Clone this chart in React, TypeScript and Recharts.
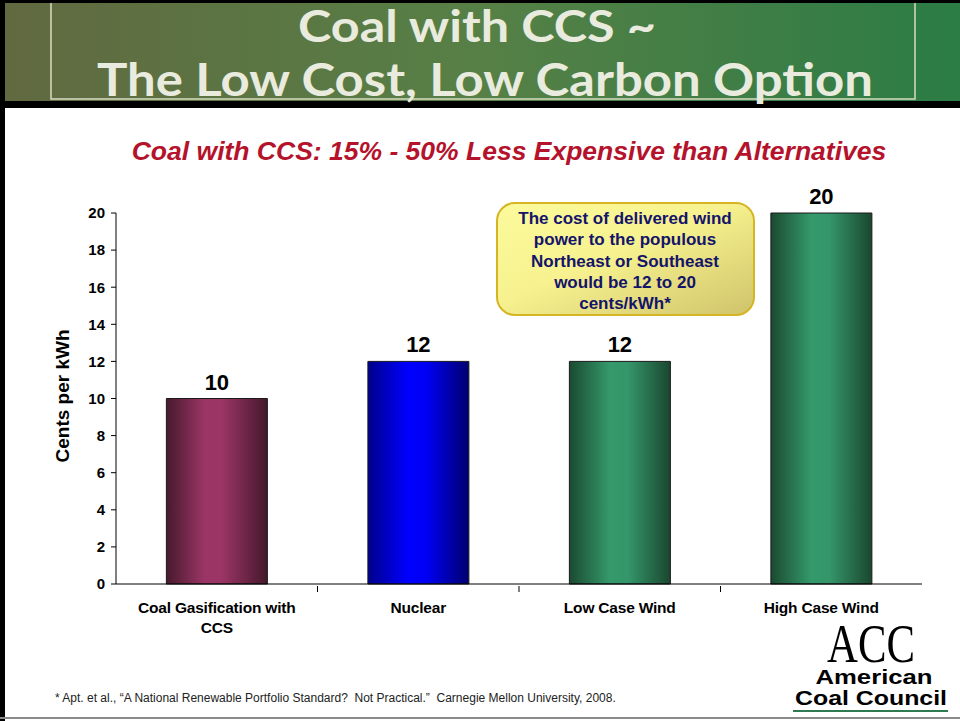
import React from 'react';
import { BarChart, Bar, XAxis, YAxis, Cell, LabelList } from 'recharts';

const categories = ['Coal Gasification with CCS', 'Nuclear', 'Low Case Wind', 'High Case Wind'];
const centsPerKwh = [10, 12, 12, 20];
const yTicks = [0, 2, 4, 6, 8, 10, 12, 14, 16, 18, 20];
const tickLines: Record<string, string[]> = {
  'Coal Gasification with CCS': ['Coal Gasification with', 'CCS'],
};
const calloutLines = [
  'The cost of delivered wind',
  'power to the populous',
  'Northeast or Southeast',
  'would be 12 to 20',
  'cents/kWh*',
];
const barGradients = ['gCoal', 'gNuclear', 'gWind', 'gWind'];

const data = categories.map((name, i) => ({ name, value: centsPerKwh[i] }));

const W = 960;
const H = 721;
const PLOT_LEFT = 116;
const PLOT_RIGHT = 922;
const BAND = (PLOT_RIGHT - PLOT_LEFT) / categories.length;
const FONT = 'Liberation Sans, Arial, sans-serif';

const CategoryTick = (props: any) => {
  const { x, y, payload, index } = props;
  const lines = tickLines[payload.value] || [payload.value];
  return (
    <g>
      {index > 0 && <line x1={x - BAND / 2} x2={x - BAND / 2} y1={y - 6} y2={y} stroke="#000" />}
      <text
        x={x}
        y={y + 21}
        textAnchor="middle"
        fontFamily={FONT}
        fontWeight="bold"
        fontSize={15.5}
        letterSpacing={-0.2}
        fill="#000"
      >
        {lines.map((l, i) => (
          <tspan key={i} x={x} dy={i === 0 ? 0 : 20}>
            {l}
          </tspan>
        ))}
      </text>
    </g>
  );
};

export default function App() {
  return (
    <div style={{ position: 'absolute', left: 0, top: 0, width: W, height: H, background: '#fff', overflow: 'hidden' }}>
      <BarChart
        width={W}
        height={H}
        data={data}
        margin={{ top: 213, right: W - PLOT_RIGHT, bottom: 77, left: PLOT_LEFT - 60 }}
        barCategoryGap="25%"
      >
        <defs>
          <linearGradient id="gCoal" x1="0" y1="0" x2="1" y2="0">
            <stop offset="0%" stopColor="#471a2e" />
            <stop offset="38%" stopColor="#9b3565" />
            <stop offset="55%" stopColor="#9b3565" />
            <stop offset="100%" stopColor="#45182c" />
          </linearGradient>
          <linearGradient id="gNuclear" x1="0" y1="0" x2="1" y2="0">
            <stop offset="0%" stopColor="#00008c" />
            <stop offset="40%" stopColor="#0000ff" />
            <stop offset="58%" stopColor="#0000f4" />
            <stop offset="100%" stopColor="#00006e" />
          </linearGradient>
          <linearGradient id="gWind" x1="0" y1="0" x2="1" y2="0">
            <stop offset="0%" stopColor="#1b4a31" />
            <stop offset="40%" stopColor="#34996b" />
            <stop offset="58%" stopColor="#34966a" />
            <stop offset="100%" stopColor="#1a472f" />
          </linearGradient>
        </defs>
        <XAxis
          dataKey="name"
          height={60}
          axisLine={{ stroke: '#000' }}
          tickLine={false}
          tick={<CategoryTick />}
          interval={0}
        />
        <YAxis
          width={60}
          domain={[0, 20]}
          ticks={yTicks}
          axisLine={{ stroke: '#000' }}
          tickLine={{ stroke: '#000' }}
          tickSize={5}
          tickMargin={6}
          tick={{ fill: '#000', fontSize: 15, fontWeight: 'bold', fontFamily: FONT }}
        />
        <Bar dataKey="value" stroke="#1a1a1a" strokeWidth={1} isAnimationActive={false}>
          {data.map((d, i) => (
            <Cell key={d.name} fill={`url(#${barGradients[i]})`} />
          ))}
          <LabelList
            dataKey="value"
            position="top"
            offset={9}
            style={{ fill: '#000', fontSize: 22, fontWeight: 'bold', fontFamily: FONT }}
          />
        </Bar>
      </BarChart>

      <svg width={W} height={H} style={{ position: 'absolute', left: 0, top: 0, pointerEvents: 'none' }}>
        <defs>
          <linearGradient id="hdr" x1="0" y1="0" x2="1" y2="0">
            <stop offset="0%" stopColor="#616940" />
            <stop offset="50%" stopColor="#568046" />
            <stop offset="100%" stopColor="#2b7c45" />
          </linearGradient>
          <linearGradient id="callout" x1="0" y1="0" x2="1" y2="1">
            <stop offset="0%" stopColor="#fcfa9c" />
            <stop offset="45%" stopColor="#f7f28f" />
            <stop offset="100%" stopColor="#cfc36a" />
          </linearGradient>
        </defs>

        {/* header */}
        <rect x={0} y={0} width={W} height={108} fill="#000" />
        <rect x={5} y={3} width={W - 5} height={98} fill="url(#hdr)" />
        <polyline points="51,3 51,99 915,99 915,3" fill="none" stroke="#d8dcc4" strokeWidth={1.5} />
        <text x={477} y={42} textAnchor="middle" fontFamily="Lato, sans-serif" fontWeight="bold" fontSize={43} fill="#e9ebde" textLength={358} lengthAdjust="spacingAndGlyphs">
          Coal with CCS ~
        </text>
        <text x={485} y={96} textAnchor="middle" fontFamily="Lato, sans-serif" fontWeight="bold" fontSize={45} fill="#e9ebde" textLength={776} lengthAdjust="spacingAndGlyphs">
          The Low Cost, Low Carbon Option
        </text>

        {/* frame edges */}
        <rect x={0} y={108} width={5} height={H - 108} fill="#000" />
        <rect x={0} y={717} width={W} height={2} fill="#8a8a8a" />

        {/* subtitle */}
        <text x={509} y={160} textAnchor="middle" fontFamily={FONT} fontWeight="bold" fontStyle="italic" fontSize={26.5} fill="#b5122b">
          Coal with CCS: 15% - 50% Less Expensive than Alternatives
        </text>

        {/* y axis title */}
        <text transform="translate(69,396) rotate(-90)" textAnchor="middle" fontFamily={FONT} fontWeight="bold" fontSize={19} fill="#000">
          Cents per kWh
        </text>

        {/* callout */}
        <rect x={497} y={203} width={257} height={112} rx={18} fill="url(#callout)" stroke="#d6b524" strokeWidth={2} />
        {calloutLines.map((l, i) => (
          <text key={i} x={625} y={224 + i * 21.3} textAnchor="middle" fontFamily={FONT} fontWeight="bold" fontSize={17} fill="#14146a">
            {l}
          </text>
        ))}

        {/* footnote */}
        <text x={55} y={702} fontFamily={FONT} fontSize={12} fill="#222" style={{ whiteSpace: 'pre' }}>
          * Apt. et al., “A National Renewable Portfolio Standard?  Not Practical.”  Carnegie Mellon University, 2008.
        </text>

        {/* logo */}
        <text x={871} y={662} textAnchor="middle" fontFamily="Liberation Serif, serif" fontSize={54} fill="#000" textLength={88} lengthAdjust="spacingAndGlyphs">
          ACC
        </text>
        <text x={874} y={684} textAnchor="middle" fontFamily={FONT} fontWeight="bold" fontSize={21} fill="#000" textLength={117} lengthAdjust="spacingAndGlyphs">
          American
        </text>
        <text x={871} y={705} textAnchor="middle" fontFamily={FONT} fontWeight="bold" fontSize={21} fill="#000" textLength={152} lengthAdjust="spacingAndGlyphs">
          Coal Council
        </text>
        <line x1={793} x2={948} y1={711} y2={711} stroke="#2f7a50" strokeWidth={2} />
      </svg>
    </div>
  );
}
